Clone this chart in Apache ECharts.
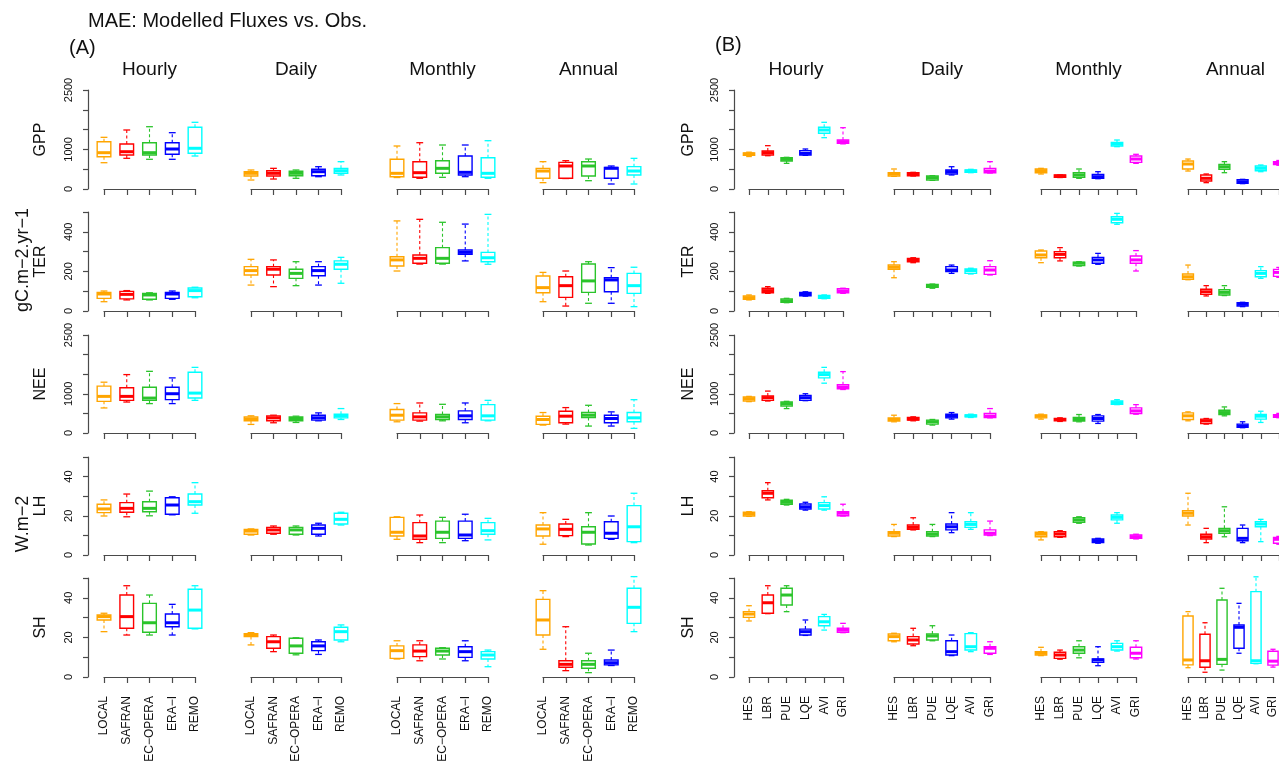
<!DOCTYPE html>
<html>
<head>
<meta charset="utf-8">
<script src="https://cdn.jsdelivr.net/npm/echarts@6/dist/echarts.min.js"></script>
<style>html,body{margin:0;padding:0;background:#fff}#c{width:1279px;height:772px}</style>
</head>
<body>
<div id="c"></div>
<script>
// ---------- categories ----------
const catsA = ['LOCAL', 'SAFRAN', 'EC\u2212OPERA', 'ERA\u2212I', 'REMO'];
const catsB = ['HES', 'LBR', 'PUE', 'LQE', 'AVI', 'GRI'];
const scales = ['Hourly', 'Daily', 'Monthly', 'Annual'];
const variables = ['GPP', 'TER', 'NEE', 'LH', 'SH'];
// y axis ranges and tick labels
const yMax = [2500, 500, 2500, 50, 50];
const yStep = [500, 100, 500, 10, 10];
const yLabels = [[0, 1000, 2500], [0, 200, 400], [0, 1000, 2500], [0, 20, 40], [0, 20, 40]];

// ---------- data: each box = [lower whisker, Q1, median, Q3, upper whisker] ----------
// Panel A
const A_GPP_H = [[664,816,917,1195,1305],[775,858,942,1136,1490],[750,858,917,1169,1573],[750,876,1010,1169,1422],[833,901,1028,1558,1684]];
const A_GPP_D = [[227,328,396,437,480],[252,328,396,462,522],[270,336,396,447,480],[311,336,437,497,563],[354,396,462,522,690]];
const A_GPP_M = [[290,311,396,750,1086],[270,295,412,690,1169],[295,396,522,715,1111],[311,354,421,833,1111],[270,295,396,791,1220]];
const A_GPP_A = [[160,270,454,522,690],[265,270,581,673,715],[210,328,581,690,757],[126,270,522,547,581],[126,354,454,564,774]];

const A_TER_H = [[47,64,86,94,101],[56,61,84,99,103],[56,59,81,89,92],[59,64,86,94,101],[67,72,103,116,120]];
const A_TER_D = [[131,182,204,224,261],[123,182,211,224,258],[128,165,190,211,249],[131,178,204,224,249],[140,211,236,253,271]];
const A_TER_M = [[202,227,258,274,455],[237,241,266,283,463],[237,241,266,320,448],[253,286,296,308,439],[236,249,269,296,488]];
const A_TER_A = [[47,92,118,177,195],[25,69,128,173,202],[39,94,152,237,249],[39,97,157,168,219],[22,89,128,190,221]];

const A_NEE_H = [[639,808,934,1195,1296],[790,833,934,1154,1490],[750,833,891,1169,1573],[750,851,1002,1169,1406],[833,891,1018,1548,1674]];
const A_NEE_D = [[219,311,362,412,438],[261,311,387,438,454],[269,311,370,412,429],[311,328,387,454,513],[345,387,438,480,623]];
const A_NEE_M = [[286,328,454,598,750],[303,328,412,513,766],[311,345,412,472,732],[261,345,438,564,766],[311,328,438,724,833]];
const A_NEE_A = [[202,219,345,429,522],[227,261,429,555,648],[177,396,454,522,707],[177,261,370,454,539],[118,286,387,522,850]];

const A_LH_H = [[19.9,21.6,23.5,25.9,28.1],[19.5,21.8,23.8,26.7,31.1],[20.0,22.1,23.8,27.2,32.6],[20.5,20.8,25.5,29.2,29.7],[21.3,25.5,27.2,31.1,36.9]];
const A_LH_D = [[10.2,10.6,12.2,13.0,13.3],[10.6,11.1,12.8,14.1,14.8],[10.2,10.6,12.8,14.1,14.8],[9.7,10.6,13.6,15.3,16.2],[15.3,15.8,18.2,21.3,21.8]];
const A_LH_M = [[8.0,9.7,11.6,19.2,19.5],[6.3,8.0,9.7,16.5,20.4],[6.3,8.5,11.6,17.3,19.2],[7.3,8.5,10.2,17.3,20.8],[7.7,10.6,12.4,16.5,18.7]];
const A_LH_A = [[5.5,9.7,13.3,15.3,21.6],[9.4,9.9,13.1,15.8,18.2],[5.1,5.6,11.6,14.4,21.6],[8.0,8.5,11.1,17.0,19.9],[6.3,6.8,14.4,25.2,31.5]];

const A_SH_H = [[22.9,28.8,30.5,31.3,32.2],[21.2,24.6,30.5,41.4,46.1],[21.2,22.6,27.4,37.2,41.4],[21.2,25.4,27.4,31.8,36.7],[24.3,24.6,33.8,44.3,46.1]];
const A_SH_D = [[16.2,20.4,21.2,21.9,22.4],[12.8,14.5,17.8,20.4,21.2],[11.2,12.0,15.7,19.6,19.8],[11.4,13.3,15.7,17.8,18.7],[17.8,18.7,22.9,25.1,26.3]];
const A_SH_M = [[9.1,9.4,13.3,15.7,18.3],[8.2,10.3,13.1,16.2,18.3],[9.1,11.1,13.1,14.5,14.8],[8.2,9.9,12.8,15.3,18.3],[5.2,9.1,11.1,12.8,13.6]];
const A_SH_A = [[14.0,21.2,28.8,39.2,43.6],[3.2,4.9,6.4,8.2,25.4],[2.2,4.4,6.4,8.2,12.0],[5.8,6.1,7.2,8.6,13.6],[22.9,27.1,35.2,44.8,50.7]];

// Panel B
const B_GPP_H = [[820,850,884,910,930],[841,858,917,960,1094],[648,707,750,791,800],[850,858,901,968,1010],[1296,1406,1490,1558,1684],[1140,1154,1195,1237,1548]];
const B_GPP_D = [[320,328,379,412,505],[328,336,379,412,421],[219,227,286,328,336],[354,379,437,480,563],[412,421,454,480,497],[404,412,454,522,690]];
const B_GPP_M = [[379,412,462,505,522],[290,295,328,354,354],[270,295,354,412,505],[260,270,311,370,437],[1069,1086,1136,1178,1237],[648,673,757,833,876]];
const B_GPP_A = [[454,505,631,707,757],[160,202,270,354,379],[412,497,563,623,690],[135,143,185,236,244],[437,462,522,581,606],[600,620,660,690,720]];

const B_TER_H = [[56,59,67,76,81],[89,92,103,115,123],[42,44,52,61,64],[75,77,86,94,97],[62,64,72,78,81],[89,92,101,112,115]];
const B_TER_D = [[168,211,221,232,249],[244,249,258,266,269],[115,120,128,134,136],[190,199,207,224,232],[187,190,204,212,216],[182,185,207,224,254]];
const B_TER_M = [[244,269,283,303,308],[253,269,286,300,320],[227,229,241,247,249],[236,241,258,271,291],[438,446,463,476,493],[202,241,258,278,305]];
const B_TER_A = [[158,160,173,187,232],[76,84,97,110,128],[78,81,94,107,128],[22,25,34,42,44],[165,173,190,204,224],[170,175,195,210,220]];

const B_NEE_H = [[800,816,875,917,934],[816,833,901,942,1069],[623,690,750,791,808],[825,833,901,960,1002],[1271,1406,1490,1548,1674],[1110,1128,1170,1229,1566]];
const B_NEE_D = [[286,303,345,387,454],[311,328,354,396,412],[202,227,286,328,345],[354,387,429,480,522],[396,412,438,463,480],[387,396,429,497,623]];
const B_NEE_M = [[354,387,429,463,480],[295,311,345,370,387],[286,303,345,396,471],[244,303,370,438,471],[724,732,774,816,850],[480,497,564,640,724]];
const B_NEE_A = [[311,345,438,513,539],[227,244,311,354,370],[438,471,522,580,665],[135,143,177,227,286],[269,354,429,471,555],[390,400,430,470,500]];

const B_LH_H = [[19.7,19.9,20.9,21.8,22.1],[28.1,29.2,31.5,32.8,36.9],[25.5,25.9,26.9,27.9,28.4],[22.9,23.5,24.6,26.0,26.9],[22.9,23.5,25.2,26.7,29.7],[19.9,20.0,21.3,22.1,25.9]];
const B_LH_D = [[9.4,9.7,11.1,11.9,15.6],[12.8,13.1,14.1,15.3,19.0],[9.4,9.7,10.7,11.9,15.6],[11.4,12.8,14.4,15.8,21.6],[13.1,14.1,15.6,17.0,21.6],[9.9,10.2,11.1,12.8,17.3]];
const B_LH_M = [[7.7,9.3,10.6,11.6,11.9],[9.0,9.3,10.7,11.9,12.4],[16.2,16.7,17.9,19.0,19.5],[6.0,6.3,7.3,8.2,8.5],[16.2,17.9,19.2,20.4,21.6],[8.2,8.5,9.3,10.2,10.6]];
const B_LH_A = [[15.3,19.9,21.3,22.6,31.5],[6.3,8.2,9.3,10.6,13.6],[9.3,11.1,12.4,13.6,24.6],[6.3,7.3,8.5,13.6,15.3],[6.8,14.4,15.8,17.0,18.2],[5.5,6.0,8.0,9.0,9.5]];

const B_SH_H = [[28.3,30.1,31.8,33.0,36.0],[32.0,32.2,37.5,41.4,46.1],[33.0,36.4,41.4,44.8,46.1],[21.0,21.2,22.9,24.2,28.8],[23.7,25.9,27.9,30.5,31.6],[22.4,22.6,23.7,24.6,27.1]];
const B_SH_D = [[17.8,18.3,20.4,21.7,22.1],[15.8,16.7,18.7,20.4,24.6],[18.3,18.7,20.7,21.7,25.9],[10.8,11.1,12.8,18.3,21.2],[12.8,13.6,15.3,21.9,22.4],[11.4,12.0,14.5,15.3,17.8]];
const B_SH_M = [[10.8,11.1,12.0,12.8,15.0],[9.0,9.4,11.1,12.5,13.6],[9.7,12.0,13.6,15.3,18.3],[5.7,7.4,8.6,9.1,15.3],[13.1,13.6,15.3,17.0,18.3],[9.1,9.7,12.0,15.0,18.3]];
const B_SH_A = [[4.7,6.1,8.6,30.8,33.0],[2.4,4.9,8.2,21.6,27.4],[3.5,6.4,8.9,38.9,44.8],[12.0,14.5,25.1,26.3,37.2],[6.7,6.9,8.2,43.1,50.6],[5,6,8,13,14]];

// ---------- styles / layout ----------
const colorsA = ['#FFA500', '#FF0000', '#2BC42B', '#0000FF', '#00FFFF'];
const colorsB = ['#FFA500', '#FF0000', '#2BC42B', '#0000FF', '#00FFFF', '#FF00FF'];
const FONT = "'Liberation Sans', Arial, Helvetica, sans-serif";
const TXT = '#111';
const AX = '#4a4a4a';

const panels = [
  { cats: catsA, colors: colorsA, yAxisX: 88, labelX: 41, xs: [[104,195],[251,341],[397,488],[543,634]],
    data: [[A_GPP_H,A_GPP_D,A_GPP_M,A_GPP_A],[A_TER_H,A_TER_D,A_TER_M,A_TER_A],[A_NEE_H,A_NEE_D,A_NEE_M,A_NEE_A],[A_LH_H,A_LH_D,A_LH_M,A_LH_A],[A_SH_H,A_SH_D,A_SH_M,A_SH_A]] },
  { cats: catsB, colors: colorsB, yAxisX: 734, labelX: 689, xs: [[749,843],[894,990],[1041,1136],[1188,1283]],
    data: [[B_GPP_H,B_GPP_D,B_GPP_M,B_GPP_A],[B_TER_H,B_TER_D,B_TER_M,B_TER_A],[B_NEE_H,B_NEE_D,B_NEE_M,B_NEE_A],[B_LH_H,B_LH_D,B_LH_M,B_LH_A],[B_SH_H,B_SH_D,B_SH_M,B_SH_A]] }
];
const rowTop = [90, 212, 335, 457, 578];
const rowBot = [189, 311, 433, 555, 677];

function makeRender(colors) {
  return function (params, api) {
    const i = api.value(0);
    const pt = k => api.coord([i, api.value(k)]);
    const x = pt(1)[0];
    const step = Math.abs(api.coord([1, 0])[0] - api.coord([0, 0])[0]);
    const bw = step * 0.6, sw = bw * 0.5;
    const yLo = pt(1)[1], yQ1 = pt(2)[1], yMed = pt(3)[1], yQ3 = pt(4)[1], yHi = pt(5)[1];
    const c = colors[params.dataIndex];
    const dash = { stroke: c, lineWidth: 1.1, lineDash: [3, 2.5], fill: null };
    const solid = { stroke: c, lineWidth: 1.3, fill: null };
    return { type: 'group', children: [
      { type: 'line', shape: { x1: x, y1: yQ3, x2: x, y2: yHi }, style: dash },
      { type: 'line', shape: { x1: x, y1: yQ1, x2: x, y2: yLo }, style: dash },
      { type: 'line', shape: { x1: x - sw / 2, y1: yHi, x2: x + sw / 2, y2: yHi }, style: solid },
      { type: 'line', shape: { x1: x - sw / 2, y1: yLo, x2: x + sw / 2, y2: yLo }, style: solid },
      { type: 'rect', shape: { x: x - bw / 2, y: yQ3, width: bw, height: yQ1 - yQ3 }, style: { fill: '#fff', stroke: c, lineWidth: 1.4 } },
      { type: 'line', shape: { x1: x - bw / 2, y1: yMed, x2: x + bw / 2, y2: yMed }, style: { stroke: c, lineWidth: 3 } }
    ] };
  };
}

const grid = [], xAxis = [], yAxis = [], series = [];
panels.forEach(function (p) {
  variables.forEach(function (v, r) {
    scales.forEach(function (s, c) {
      const gi = grid.length;
      const x0 = p.xs[c][0], x1 = p.xs[c][1];
      grid.push({ left: x0, width: x1 - x0, top: rowTop[r], height: rowBot[r] - rowTop[r], containLabel: false });
      xAxis.push({
        type: 'category', gridIndex: gi, data: p.cats, boundaryGap: false, offset: 4,
        axisLine: { show: true, lineStyle: { color: AX, width: 1.2 } },
        axisTick: { show: true, length: 6, interval: 0, lineStyle: { color: AX, width: 1.2 } },
        axisLabel: { show: r === 4, interval: 0, rotate: 90, margin: 15, fontSize: 12, color: TXT, fontFamily: FONT },
        splitLine: { show: false }
      });
      const lab = yLabels[r];
      yAxis.push({
        type: 'value', gridIndex: gi, min: 0, max: yMax[r], interval: yStep[r], show: c === 0,
        offset: x0 - p.yAxisX,
        axisLine: { show: true, lineStyle: { color: AX, width: 1.2 } },
        axisTick: { show: true, length: 5, lineStyle: { color: AX, width: 1.2 } },
        axisLabel: { show: true, rotate: 90, margin: 14, fontSize: 11, color: TXT, fontFamily: FONT,
          formatter: function (val) { return lab.indexOf(val) >= 0 ? String(val) : ''; } },
        splitLine: { show: false }
      });
      series.push({
        type: 'custom', xAxisIndex: gi, yAxisIndex: gi, clip: false,
        renderItem: makeRender(p.colors),
        data: p.data[r][c].map(function (d, i) { return [i].concat(d); }),
        silent: true, animation: false
      });
    });
  });
});

// ---------- texts ----------
const graphic = [];
function txt(text, x, y, size, rot, align) {
  graphic.push({ type: 'text', x: x, y: y, rotation: rot || 0, silent: true,
    style: { text: text, fill: TXT, font: size + 'px ' + FONT, textAlign: align || 'center', textVerticalAlign: 'middle' } });
}
txt('MAE: Modelled Fluxes vs. Obs.', 88, 21, 20, 0, 'left');
txt('(A)', 69, 48, 20, 0, 'left');
txt('(B)', 715, 45, 20, 0, 'left');
panels.forEach(function (p) {
  scales.forEach(function (s, c) { txt(s, (p.xs[c][0] + p.xs[c][1]) / 2, 70, 19); });
  variables.forEach(function (v, r) { txt(v, p.labelX, (rowTop[r] + rowBot[r]) / 2, 16, Math.PI / 2); });
});
txt('gC.m\u22122.yr\u22121', 23, 260, 18, Math.PI / 2);
txt('W.m\u22122', 23, 524, 18, Math.PI / 2);

const chart = echarts.init(document.getElementById('c'), null, { renderer: 'canvas' });
chart.setOption({ animation: false, backgroundColor: '#fff', grid: grid, xAxis: xAxis, yAxis: yAxis, series: series, graphic: graphic });
</script>
</body>
</html>
